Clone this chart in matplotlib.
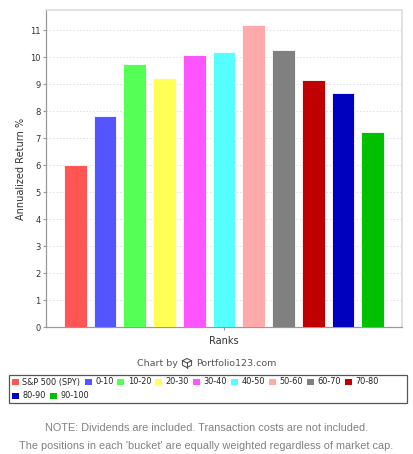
import matplotlib
matplotlib.use("Agg")
import matplotlib.pyplot as plt
from matplotlib.patches import Rectangle

# data
ranks = ["S&P 500 (SPY)", "0-10", "10-20", "20-30", "30-40", "40-50",
         "50-60", "60-70", "70-80", "80-90", "90-100"]
returns = [6.0, 7.84, 9.75, 9.22, 10.1, 10.2, 11.2, 10.26, 9.15, 8.68, 7.24]
colors = ["#FF5555", "#5555FF", "#55FF55", "#FFFF55", "#FF55FF", "#55FFFF",
          "#FFAAAA", "#808080", "#C00000", "#0000C0", "#00C000"]
yticks = list(range(0, 12))

W, H = 413, 454
fig = plt.figure(figsize=(W / 100, H / 100), dpi=100)
fig.patch.set_facecolor("white")

ax = fig.add_axes([46 / W, 1 - 327.3 / H, 356 / W, 317.3 / H])
xs = list(range(len(returns)))
ax.bar(xs, returns, width=0.76, color=colors, edgecolor="#ffffff", linewidth=0.6, zorder=3)
ax.set_xlim(-0.985, len(returns) - 1 + 0.985)
ax.set_ylim(0, 11.75)
ax.set_yticks(yticks)
ax.set_yticklabels([str(t) for t in yticks])
ax.set_xticks([(len(returns) - 1) / 2])
ax.set_xticklabels([""])
ax.tick_params(axis="y", labelsize=6, colors="#999999", labelcolor="#333333", length=2, width=0.8, pad=2)
ax.tick_params(axis="x", colors="#999999", length=2, width=0.8, pad=0)
ax.grid(axis="y", color="#dddddd", linestyle=(0, (2, 2)), linewidth=0.6, zorder=0)
for s in ["left", "bottom"]:
    ax.spines[s].set_color("#999999")
    ax.spines[s].set_linewidth(0.9)
for s in ["top", "right"]:
    ax.spines[s].set_color("#dddddd")
    ax.spines[s].set_linewidth(1.2)
ax.set_ylabel("Annualized Return %", fontsize=7, color="#333333", labelpad=3)
ax.set_xlabel("Ranks", fontsize=7, color="#333333", labelpad=4)

# "Chart by Portfolio123.com"
fig.text(178 / W, 1 - 363 / H, "Chart by", fontsize=6.8, color="#555555", ha="right", va="center")
fig.text(196 / W, 1 - 363 / H, "Portfolio123.com", fontsize=6.8, color="#555555", ha="left", va="center")
cx, cy, r = 187, 363, 4.5
cube = [[(cx - r, cy - r / 2), (cx, cy - r), (cx + r, cy - r / 2), (cx + r, cy + r / 2),
         (cx, cy + r), (cx - r, cy + r / 2), (cx - r, cy - r / 2)],
        [(cx - r, cy - r / 2), (cx, cy), (cx + r, cy - r / 2)],
        [(cx, cy), (cx, cy + r)]]
for seg in cube:
    fig.add_artist(plt.Line2D([p[0] / W for p in seg], [1 - p[1] / H for p in seg],
                              color="#555555", linewidth=0.8))

# legend box
fig.add_artist(Rectangle((9 / W, 1 - 403 / H), 398 / W, 28 / H, fill=False,
                         edgecolor="#555555", linewidth=0.9))
fig.canvas.draw()
renderer = fig.canvas.get_renderer()
x0, x, y = 12, 12, 382
for name, c in zip(ranks, colors):
    t = fig.text(0, 0, name, fontsize=5.9, color="#222222", ha="left", va="center")
    wid = t.get_window_extent(renderer).width
    if x + 10.5 + wid > 404:
        x, y = x0, y + 14
    fig.add_artist(Rectangle((x / W, 1 - (y + 3) / H), 7 / W, 6.5 / H,
                             facecolor=c, edgecolor="none"))
    t.set_position(((x + 10.5) / W, 1 - y / H))
    x += 10.5 + wid + 4

fig.text(0.5, 1 - 428 / H, "NOTE: Dividends are included. Transaction costs are not included.",
         fontsize=7.8, color="#808080", ha="center", va="center", family="Liberation Sans")
fig.text(0.5, 1 - 446 / H, "The positions in each 'bucket' are equally weighted regardless of market cap.",
         fontsize=7.8, color="#808080", ha="center", va="center", family="Liberation Sans")

fig.savefig("out.png", dpi=100)
